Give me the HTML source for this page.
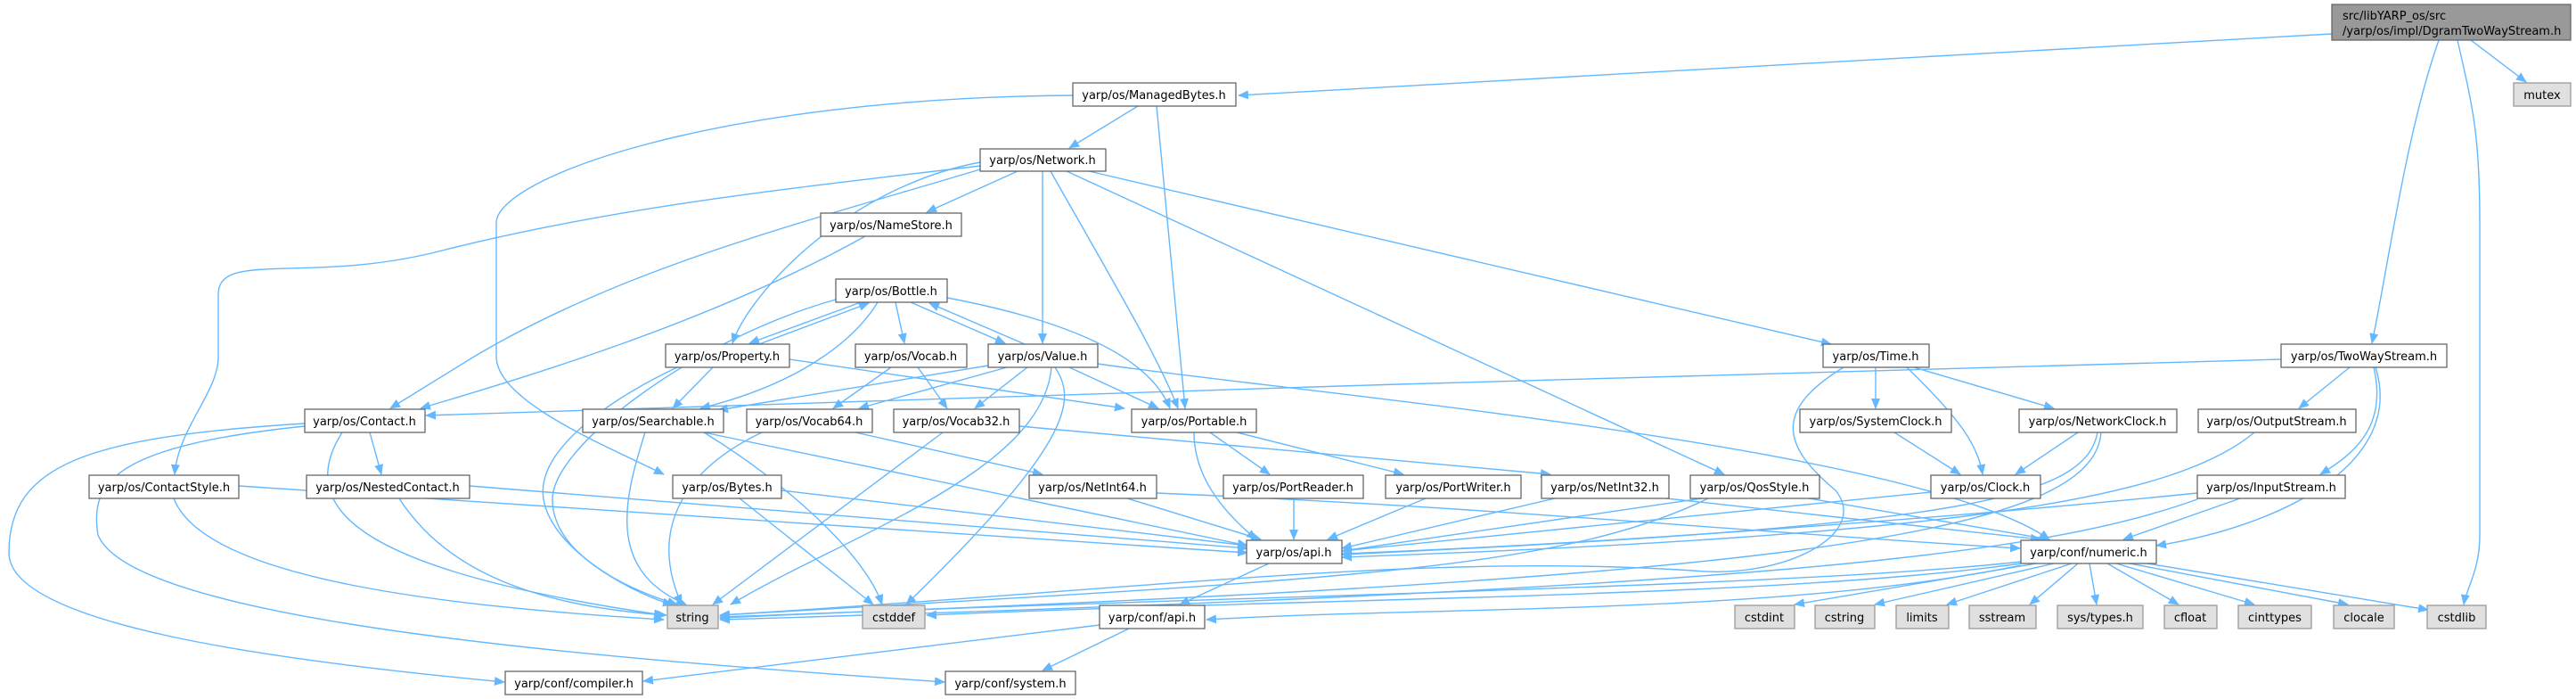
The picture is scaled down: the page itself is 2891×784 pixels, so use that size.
<!DOCTYPE html>
<html><head><meta charset="utf-8"><style>
html,body{margin:0;padding:0;background:#fff;width:2891px;height:784px;overflow:hidden}
svg text{font-family:"DejaVu Sans","Liberation Sans",sans-serif;font-size:13px;fill:#000}
</style></head><body>
<svg width="2891" height="784" viewBox="0 0 2891 784" xmlns="http://www.w3.org/2000/svg">
<defs>
<marker id="a" markerWidth="12" markerHeight="10" refX="11" refY="5" orient="auto" markerUnits="userSpaceOnUse">
<path d="M0,0 L12,5 L0,10 Z" fill="#63b8ff"/></marker>
</defs>
<g fill="none" stroke="#63b8ff" stroke-width="1.4" marker-end="url(#a)">
<path d="M2617,38 L1390,107"/>
<path d="M2773,45 L2835,92"/>
<path d="M2737,45 C2700,150 2680,300 2662,385"/>
<path d="M2758,45 C2775,120 2783,150 2783,250 L2783,600 C2783,640 2768,660 2765,678"/>
<path d="M1277,119 L1200,166"/>
<path d="M1298,119 L1330,458"/>
<path d="M1204,107 C800,110 557,200 557,250 L557,400 C557,450 680,500 745,532"/>
<path d="M1142,192 L1040,238"/>
<path d="M1100,182 C950,210 840,330 822,385"/>
<path d="M1100,186 C900,210 700,230 500,280 C350,320 245,280 245,330 L245,400 C245,440 200,480 196,532"/>
<path d="M1100,190 C900,250 700,300 532,400 L438,458"/>
<path d="M971,265 C800,360 600,420 472,458"/>
<path d="M1170,192 L1170,385"/>
<path d="M1179,192 C1240,300 1300,400 1322,458"/>
<path d="M1197,192 L1935,532"/>
<path d="M1222,192 L2055,386"/>
<path d="M966,339 L841,385"/>
<path d="M852,386 L975,340"/>
<path d="M1022,339 L1128,385"/>
<path d="M1150,386 L1043,340"/>
<path d="M1005,339 L1015,385"/>
<path d="M938,336 C780,380 620,500 620,560 C620,620 700,660 760,678"/>
<path d="M985,339 C960,380 900,430 786,458"/>
<path d="M1063,334 C1200,360 1290,400 1313,458"/>
<path d="M800,412 L755,458"/>
<path d="M760,412 C700,440 600,500 610,560 C620,620 720,670 755,678"/>
<path d="M886,403 L1262,458"/>
<path d="M1000,412 L935,458"/>
<path d="M1030,412 L1063,458"/>
<path d="M1109,410 L806,460"/>
<path d="M1130,412 L964,458"/>
<path d="M1153,412 L1094,458"/>
<path d="M1200,412 L1300,458"/>
<path d="M1180,412 C1170,530 950,600 820,678"/>
<path d="M1184,412 C1210,450 1200,500 1017,678"/>
<path d="M1232,408 C1450,440 2150,500 2300,605"/>
<path d="M415,485 L428,532"/>
<path d="M384,485 C330,570 400,640 745,690"/>
<path d="M342,475 C100,490 10,520 10,620 C10,700 300,740 566,765"/>
<path d="M342,478 C130,500 100,540 110,600 C150,700 700,740 1060,765"/>
<path d="M724,485 C700,560 680,640 770,678"/>
<path d="M790,485 C880,540 970,620 990,678"/>
<path d="M790,485 L1400,612"/>
<path d="M855,485 C760,530 730,600 765,678"/>
<path d="M960,485 L1170,532"/>
<path d="M1058,485 L800,678"/>
<path d="M1144,478 L1740,532"/>
<path d="M1358,485 L1425,532"/>
<path d="M1388,485 L1575,532"/>
<path d="M1340,485 C1340,540 1380,580 1410,605"/>
<path d="M195,559 C230,650 500,680 745,695"/>
<path d="M268,545 L1400,620"/>
<path d="M448,559 C500,640 600,680 748,690"/>
<path d="M527,545 L1400,615"/>
<path d="M830,559 L980,678"/>
<path d="M877,550 L1400,612"/>
<path d="M1265,559 L1415,605"/>
<path d="M1298,553 C1700,570 2000,600 2267,615"/>
<path d="M1452,559 L1452,605"/>
<path d="M1600,559 L1490,605"/>
<path d="M1745,559 L1506,615"/>
<path d="M1870,559 L2290,605"/>
<path d="M1910,559 L1506,618"/>
<path d="M2030,559 L2300,605"/>
<path d="M1917,559 C1750,640 1500,650 808,690"/>
<path d="M2105,412 L2105,458"/>
<path d="M2148,412 L2305,458"/>
<path d="M2140,412 C2200,470 2220,500 2225,532"/>
<path d="M2069,412 C1990,460 2000,500 2060,550 C2100,600 2000,650 1900,640 C1600,620 1300,660 808,690"/>
<path d="M2332,485 L2262,532"/>
<path d="M2126,485 L2200,532"/>
<path d="M2354,485 C2340,560 2200,590 1506,622"/>
<path d="M2358,485 C2350,600 2000,650 808,692"/>
<path d="M2167,552 L1506,618"/>
<path d="M2530,485 C2440,560 2200,600 1506,625"/>
<path d="M2560,403 C2000,415 1000,450 478,466"/>
<path d="M2637,412 L2580,458"/>
<path d="M2664,412 C2680,480 2640,510 2604,532"/>
<path d="M2666,412 C2700,520 2560,590 2420,612"/>
<path d="M2466,553 C2200,580 1800,610 1506,621"/>
<path d="M2514,559 L2383,605"/>
<path d="M2466,560 C2300,620 2000,660 808,695"/>
<path d="M1424,632 L1324,678"/>
<path d="M2268,630 C2000,660 1300,670 808,693"/>
<path d="M2268,632 C2000,670 1500,670 1040,690"/>
<path d="M2268,634 C2000,690 1600,680 1354,695"/>
<path d="M2285,632 L2014,678"/>
<path d="M2305,632 L2104,678"/>
<path d="M2325,632 L2185,678"/>
<path d="M2332,632 L2278,678"/>
<path d="M2345,632 L2353,678"/>
<path d="M2365,632 L2445,678"/>
<path d="M2375,632 L2530,678"/>
<path d="M2390,632 L2635,678"/>
<path d="M2410,632 L2725,684"/>
<path d="M1234,701 L722,764"/>
<path d="M1267,705 L1170,752"/>
</g>
<g stroke="#666" stroke-width="1.3" fill="#fff">
<rect x="2617" y="5" width="268" height="40" fill="#999"/>
<rect x="1204" y="93" width="183" height="26"/>
<rect x="1100" y="167" width="141" height="25"/>
<rect x="921" y="239" width="158" height="26"/>
<rect x="938" y="313" width="125" height="26"/>
<rect x="747" y="386" width="139" height="26"/>
<rect x="960" y="386" width="125" height="26"/>
<rect x="1109" y="386" width="123" height="26"/>
<rect x="2046" y="386" width="119" height="26"/>
<rect x="2560" y="386" width="186" height="26"/>
<rect x="342" y="459" width="135" height="26"/>
<rect x="654" y="459" width="158" height="26"/>
<rect x="838" y="459" width="141" height="26"/>
<rect x="1003" y="459" width="141" height="26"/>
<rect x="1270" y="459" width="140" height="26"/>
<rect x="2020" y="459" width="170" height="26"/>
<rect x="2266" y="459" width="177" height="26"/>
<rect x="2467" y="459" width="177" height="26"/>
<rect x="100" y="533" width="168" height="26"/>
<rect x="344" y="533" width="183" height="26"/>
<rect x="755" y="533" width="122" height="26"/>
<rect x="1155" y="533" width="143" height="26"/>
<rect x="1373" y="533" width="157" height="26"/>
<rect x="1555" y="533" width="152" height="26"/>
<rect x="1730" y="533" width="143" height="26"/>
<rect x="1897" y="533" width="145" height="26"/>
<rect x="2167" y="533" width="123" height="26"/>
<rect x="2466" y="533" width="166" height="26"/>
<rect x="1399" y="606" width="107" height="26"/>
<rect x="2268" y="606" width="152" height="26"/>
<rect x="1234" y="679" width="118" height="26"/>
<rect x="567" y="753" width="154" height="26"/>
<rect x="1061" y="753" width="146" height="26"/>
</g>
<g stroke="#999" stroke-width="1.3" fill="#e0e0e0">
<rect x="2821" y="93" width="64" height="26"/>
<rect x="749" y="679" width="57" height="26"/>
<rect x="968" y="679" width="70" height="26"/>
<rect x="1947" y="679" width="67" height="26"/>
<rect x="2037" y="679" width="67" height="26"/>
<rect x="2128" y="679" width="59" height="26"/>
<rect x="2210" y="679" width="75" height="26"/>
<rect x="2309" y="679" width="96" height="26"/>
<rect x="2429" y="679" width="59" height="26"/>
<rect x="2512" y="679" width="82" height="26"/>
<rect x="2619" y="679" width="68" height="26"/>
<rect x="2724" y="679" width="66" height="26"/>
</g>
<text x="2629" y="22">src/libYARP_os/src</text>
<text x="2629" y="39">/yarp/os/impl/DgramTwoWayStream.h</text>
<g text-anchor="middle">
<text x="2853" y="111">mutex</text>
<text x="1295" y="111">yarp/os/ManagedBytes.h</text>
<text x="1170" y="184">yarp/os/Network.h</text>
<text x="1000" y="257">yarp/os/NameStore.h</text>
<text x="1000" y="331">yarp/os/Bottle.h</text>
<text x="816" y="404">yarp/os/Property.h</text>
<text x="1022" y="404">yarp/os/Vocab.h</text>
<text x="1170" y="404">yarp/os/Value.h</text>
<text x="2105" y="404">yarp/os/Time.h</text>
<text x="2653" y="404">yarp/os/TwoWayStream.h</text>
<text x="409" y="477">yarp/os/Contact.h</text>
<text x="733" y="477">yarp/os/Searchable.h</text>
<text x="908" y="477">yarp/os/Vocab64.h</text>
<text x="1073" y="477">yarp/os/Vocab32.h</text>
<text x="1340" y="477">yarp/os/Portable.h</text>
<text x="2105" y="477">yarp/os/SystemClock.h</text>
<text x="2354" y="477">yarp/os/NetworkClock.h</text>
<text x="2555" y="477">yarp/os/OutputStream.h</text>
<text x="184" y="551">yarp/os/ContactStyle.h</text>
<text x="435" y="551">yarp/os/NestedContact.h</text>
<text x="816" y="551">yarp/os/Bytes.h</text>
<text x="1226" y="551">yarp/os/NetInt64.h</text>
<text x="1451" y="551">yarp/os/PortReader.h</text>
<text x="1631" y="551">yarp/os/PortWriter.h</text>
<text x="1801" y="551">yarp/os/NetInt32.h</text>
<text x="1969" y="551">yarp/os/QosStyle.h</text>
<text x="2228" y="551">yarp/os/Clock.h</text>
<text x="2549" y="551">yarp/os/InputStream.h</text>
<text x="1452" y="624">yarp/os/api.h</text>
<text x="2344" y="624">yarp/conf/numeric.h</text>
<text x="777" y="697">string</text>
<text x="1003" y="697">cstddef</text>
<text x="1293" y="697">yarp/conf/api.h</text>
<text x="1980" y="697">cstdint</text>
<text x="2070" y="697">cstring</text>
<text x="2157" y="697">limits</text>
<text x="2247" y="697">sstream</text>
<text x="2357" y="697">sys/types.h</text>
<text x="2458" y="697">cfloat</text>
<text x="2553" y="697">cinttypes</text>
<text x="2653" y="697">clocale</text>
<text x="2757" y="697">cstdlib</text>
<text x="644" y="771">yarp/conf/compiler.h</text>
<text x="1134" y="771">yarp/conf/system.h</text>
</g>
</svg>
</body></html>
